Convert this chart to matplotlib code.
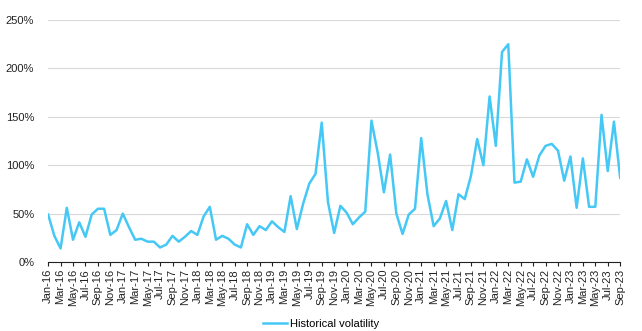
import numpy as np
import pandas as pd
import matplotlib
matplotlib.use('Agg')
import matplotlib.pyplot as plt
from matplotlib.ticker import PercentFormatter

plt.rcParams['font.family'] = ['Liberation Sans', 'DejaVu Sans']

# monthly historical volatility, Jan-16 .. Sep-23 (%)
months = pd.date_range('2016-01-01', '2023-09-01', freq='MS')
vol = [49, 27, 14, 56, 23, 41, 26, 49, 55, 55, 28, 33,
       50, 36, 23, 24, 21, 21, 15, 18, 27, 21, 26, 32,
       28, 47, 57, 23, 27, 24, 18, 15, 39, 28, 37, 33,
       42, 36, 31, 68, 34, 60, 81, 91, 144, 62, 30, 58,
       51, 39, 46, 52, 146, 113, 72, 111, 50, 29, 49, 55,
       128, 70, 37, 45, 63, 33, 70, 65, 89, 127, 100, 171,
       120, 217, 225, 82, 83, 106, 88, 110, 120, 122, 115, 84,
       109, 56, 107, 57, 57, 152, 94, 145, 87]
labels = [m.strftime('%b-%y') for m in months]

fig = plt.figure(figsize=(6.42, 3.31), dpi=100)
ax = fig.add_axes([0.075, 0.2085, 0.891, 0.731])

x = np.arange(len(vol))
ax.plot(x, vol, color='#45C8F5', lw=1.8, label='Historical volatility')

ax.set_xlim(0, len(vol) - 1)
ax.set_ylim(0, 250)
ax.set_yticks(np.arange(0, 251, 50))
ax.yaxis.set_major_formatter(PercentFormatter(decimals=0))
ax.set_xticks(x[::2])
ax.set_xticklabels(labels[::2], rotation=90)
ax.tick_params(axis='x', length=3, width=0.8, colors='#222222', labelsize=8, pad=2)
ax.tick_params(axis='y', length=0, labelsize=8, pad=10, colors='#222222')

ax.grid(axis='y', color='#d9d9d9', lw=0.8)
ax.set_axisbelow(True)
for s in ['left', 'right', 'top']:
    ax.spines[s].set_visible(False)
ax.spines['bottom'].set_color('#222222')
ax.spines['bottom'].set_linewidth(0.8)

fig.legend(loc='lower center', bbox_to_anchor=(0.5, -0.025), frameon=False,
           fontsize=8, handlelength=2.2, handletextpad=0.3)

fig.savefig('out.png', dpi=100)
